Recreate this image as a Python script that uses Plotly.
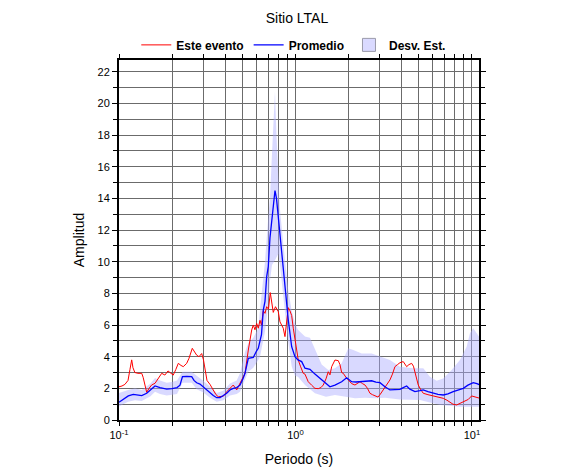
import plotly.graph_objects as go

# ---- data (period in s, amplitude) ----
red_period = [0.100, 0.104, 0.108, 0.1125, 0.1154, 0.118, 0.120, 0.123, 0.128, 0.1345, 0.137, 0.140, 0.1435,
              0.148, 0.153, 0.160, 0.166, 0.1746, 0.182, 0.1895, 0.1945, 0.203, 0.210, 0.2168, 0.2245, 0.2313,
              0.2419, 0.2493, 0.2602, 0.2678, 0.2755, 0.284, 0.2942, 0.3011, 0.3071, 0.3152, 0.3278, 0.3422,
              0.3545, 0.3653, 0.390, 0.409, 0.4255, 0.4442, 0.4644, 0.4849, 0.504, 0.5176, 0.5404, 0.5648,
              0.5767, 0.5896, 0.6029, 0.6155, 0.6294, 0.6418, 0.6571, 0.6718, 0.6868, 0.7031, 0.7198, 0.7332,
              0.7486, 0.7704, 0.7857, 0.7991, 0.8171, 0.833, 0.8528, 0.8718, 0.889, 0.9104, 0.9306, 0.9517,
              0.9717, 0.9935, 1.0158, 1.037, 1.067, 1.107, 1.132, 1.181, 1.235, 1.289, 1.346, 1.395, 1.437,
              1.489, 1.534, 1.568, 1.604, 1.674, 1.748, 1.787, 1.827, 1.865, 1.932, 1.991, 2.081, 2.173, 2.245,
              2.320, 2.397, 2.477, 2.559, 2.643, 2.731, 2.821, 2.934, 3.012, 3.111, 3.214, 3.320, 3.430, 3.544,
              3.662, 3.784, 3.909, 4.081, 4.172, 4.266, 4.395, 4.553, 4.662, 4.753, 4.963, 5.140, 5.298, 5.632,
              6.035, 6.42, 6.88, 7.22, 7.506, 7.806, 8.19, 8.55, 8.93, 9.25, 9.53, 9.96, 10.40, 10.81, 11.10]
red_amp = [2.1, 2.15, 2.25, 2.5, 3.2, 3.8, 3.3, 3.0, 2.95, 2.95, 2.7, 2.32, 1.75,
           2.0, 2.21, 2.32, 2.6, 2.95, 2.84, 3.1, 3.0, 2.84, 3.2, 3.58, 3.45, 3.37,
           3.58, 3.9, 4.53, 4.3, 4.1, 4.0, 4.2, 3.8, 3.1, 2.5, 2.25, 1.9,
           1.6, 1.47, 1.5, 1.8, 2.0, 2.21, 1.9, 2.32, 2.7, 2.95, 4.42, 5.69,
           6.0, 5.7, 6.1, 5.8, 6.3, 6.0, 6.9, 6.74, 7.16, 7.0, 8.05, 7.27,
           6.8, 7.16, 6.95, 6.85, 6.2, 6.0, 5.8, 5.27, 6.0, 7.1, 6.9, 6.6,
           5.8, 5.06, 4.4, 3.79, 3.4, 2.95, 2.9, 2.42, 2.2, 2.0, 1.98, 2.05, 2.21,
           2.6, 3.05, 2.85, 3.37, 3.79, 3.75, 3.5, 3.0, 2.95, 2.7, 2.53, 2.3, 2.21, 2.3,
           2.42, 2.3, 2.21, 2.0, 1.69, 1.6, 1.54, 1.45, 1.6, 1.85, 2.1, 2.3, 2.53, 2.9,
           3.37, 3.5, 3.62, 3.69, 3.5, 3.37, 3.5, 3.58, 3.4, 3.05, 2.21, 1.9, 1.69, 1.6,
           1.52, 1.45, 1.37, 1.25, 1.1, 1.0, 0.95, 1.05, 1.16, 1.2, 1.3, 1.52, 1.45, 1.38, 1.37]

mean_period = [0.100, 0.1054, 0.1129, 0.1205, 0.1281, 0.1345, 0.1435, 0.1508, 0.160, 0.1707, 0.1864, 0.1997,
               0.2132, 0.2216, 0.2289, 0.2419, 0.2582, 0.266, 0.2755, 0.2876, 0.2991, 0.3140, 0.3278, 0.3422,
               0.3577, 0.3734, 0.390, 0.4075, 0.4255, 0.4442, 0.4644, 0.4849, 0.504, 0.5176, 0.5404, 0.5767,
               0.5974, 0.6155, 0.6294, 0.6418, 0.6571, 0.6718, 0.6868, 0.7013, 0.7169, 0.7359, 0.7554, 0.7654,
               0.7806, 0.7991, 0.8171, 0.8351, 0.8551, 0.8718, 0.9104, 0.9517, 0.9935, 1.0332, 1.0842, 1.132,
               1.2083, 1.289, 1.4076, 1.489, 1.568, 1.674, 1.827, 1.950, 2.081, 2.202, 2.372, 2.508, 2.702,
               2.858, 3.012, 3.214, 3.430, 3.662, 3.909, 4.081, 4.266, 4.452, 4.753, 5.074, 5.298, 5.632,
               6.035, 6.42, 6.88, 7.311, 7.834, 8.331, 8.93, 9.491, 10.17, 10.67, 11.10]
mean_amp = [1.12, 1.3, 1.52, 1.62, 1.6, 1.54, 1.69, 1.9, 2.15, 2.05, 1.95, 1.98,
            2.05, 2.2, 2.74, 2.76, 2.74, 2.5, 2.35, 2.27, 2.1, 1.95, 1.75, 1.55,
            1.41, 1.42, 1.55, 1.69, 1.9, 2.0, 2.05, 2.2, 2.6, 2.95, 3.9, 3.95,
            4.3, 4.53, 5.0, 5.4, 6.95, 7.5, 9.06, 9.7, 11.5, 12.8, 14.0, 14.5,
            14.0, 12.85, 11.5, 10.3, 9.2, 8.2, 6.32, 4.63, 4.0, 3.8, 3.69, 3.27,
            3.2, 2.9, 2.53, 2.3, 2.1, 2.21, 2.42, 2.67, 2.42, 2.4, 2.42, 2.46, 2.48,
            2.4, 2.36, 2.1, 1.9, 1.92, 1.94, 2.05, 2.15, 1.95, 1.79, 1.85, 1.9, 1.8,
            1.69, 1.62, 1.58, 1.65, 1.79, 1.9, 2.0, 2.2, 2.36, 2.3, 2.22]

upper_period = [0.100, 0.1125, 0.1232, 0.1345, 0.1508, 0.160, 0.1707, 0.1864, 0.1997, 0.2132, 0.2289, 0.2582,
                0.2755, 0.2991, 0.3278, 0.3577, 0.390, 0.4255, 0.4644, 0.4849, 0.5176, 0.5404, 0.5767, 0.6155,
                0.6294, 0.6571, 0.6718, 0.7013, 0.7169, 0.7359, 0.7554, 0.7654, 0.7806, 0.7991, 0.8171, 0.8551,
                0.8718, 0.9104, 0.9517, 0.9935, 1.0332, 1.132, 1.2083, 1.289, 1.4076, 1.534, 1.674, 1.827, 1.991,
                2.126, 2.372, 2.702, 3.079, 3.430, 3.909, 4.650, 5.298, 5.781, 6.31, 6.88, 7.674, 8.55, 9.33,
                9.743, 10.17, 10.63, 11.10]
upper_amp = [1.7, 1.9, 2.0, 1.9, 2.3, 2.65, 2.5, 2.35, 2.4, 2.5, 3.05, 3.05,
             2.8, 2.5, 2.1, 1.7, 1.85, 2.3, 2.5, 2.95, 4.3, 4.85, 5.2, 5.8,
             6.95, 8.85, 10.0, 12.8, 14.0, 16.8, 19.5, 20.75, 18.0, 15.3, 13.3, 11.0,
             10.1, 8.2, 6.9, 6.1, 5.7, 5.27, 5.2, 4.5, 3.5, 3.16, 3.27, 3.58, 4.53,
             4.42, 4.21, 4.2, 4.0, 3.79, 3.37, 3.27, 3.27, 2.74, 2.48, 2.63, 3.16, 3.79, 4.63,
             5.48, 5.8, 5.5, 5.2]

lower_period = [0.100, 0.1125, 0.1232, 0.1345, 0.1508, 0.160, 0.1707, 0.1864, 0.1997, 0.2132, 0.2289, 0.2582,
                0.2755, 0.2991, 0.3278, 0.3577, 0.390, 0.4255, 0.4644, 0.4849, 0.5176, 0.5404, 0.5767, 0.6155,
                0.6294, 0.6571, 0.6718, 0.7013, 0.7169, 0.7359, 0.7654, 0.7991, 0.8171, 0.8551, 0.8718, 0.9104,
                0.9517, 0.9935, 1.0332, 1.132, 1.289, 1.489, 1.674, 1.908, 2.173, 2.477, 2.821, 3.214, 3.909,
                5.074, 6.59, 8.55, 11.10]
lower_amp = [0.85, 1.15, 1.25, 1.2, 1.5, 1.79, 1.65, 1.55, 1.6, 1.65, 2.35, 2.35,
             1.95, 1.75, 1.4, 1.16, 1.25, 1.55, 1.65, 1.79, 2.5, 3.05, 3.3, 3.79,
             4.0, 5.0, 5.6, 7.3, 8.8, 9.8, 10.1, 10.5, 9.8, 7.7, 6.6, 4.9,
             3.4, 2.8, 2.74, 2.21, 1.69, 1.47, 1.58, 1.47, 1.37, 1.4, 1.37, 1.4, 1.3,
             1.26, 0.95, 0.84, 0.84]

x_major = [0.1, 1, 10]
x_major_text = ["10<sup>-1</sup>", "10<sup>0</sup>", "10<sup>1</sup>"]
x_grid = [0.1, 0.2, 0.3, 0.4, 0.5, 0.6, 0.7, 0.8, 0.9, 1, 2, 3, 4, 5, 6, 7, 8, 9, 10]

FONT = "Liberation Sans, Arial, Helvetica, sans-serif"
GRID = "#6b6b6b"

fig = go.Figure()
fig.add_trace(go.Scatter(
    x=upper_period + lower_period[::-1], y=upper_amp + lower_amp[::-1],
    fill="toself", fillcolor="rgba(170,170,255,0.45)", mode="lines",
    line=dict(width=0), name="Desv. Est.", showlegend=False,
    hoverinfo="skip"))
fig.add_trace(go.Scatter(x=red_period, y=red_amp, mode="lines", name="Este evento",
                         line=dict(color="#ff0000", width=1), legendrank=1))
fig.add_trace(go.Scatter(x=mean_period, y=mean_amp, mode="lines", name="Promedio",
                         line=dict(color="#0000ff", width=1.3), legendrank=2))
# legend-only swatch for the band
fig.add_trace(go.Scatter(x=[None], y=[None], mode="markers", name="Desv. Est.", legendrank=3,
                         marker=dict(symbol="square", size=13, color="#dadaff",
                                     line=dict(color="#9a9aaa", width=1))))

fig.update_layout(
    width=578, height=467,
    margin=dict(l=111, r=107, t=52, b=55, autoexpand=False),
    paper_bgcolor="white", plot_bgcolor="white",
    font=dict(family=FONT, size=11, color="black"),
    title=dict(text="Sitio LTAL", x=0.5, xanchor="center", y=0.9786, yanchor="middle",
               yref="container", font=dict(size=14, family=FONT)),
    legend=dict(orientation="h", x=0.048, xanchor="left", y=1.042, yanchor="middle",
                font=dict(size=12, family=FONT, weight="bold"), bgcolor="rgba(0,0,0,0)",
                traceorder="normal", itemwidth=30),
    showlegend=True,
)
fig.update_xaxes(
    type="log", range=[-1, 1.04], automargin=False,
    tickmode="array", tickvals=x_grid,
    ticktext=[x_major_text[x_major.index(v)] if v in x_major else "" for v in x_grid],
    showgrid=True, gridcolor=GRID, gridwidth=1,
    ticks="outside", ticklen=4, tickcolor="black", tickwidth=1,
    showline=True, linecolor="black", linewidth=2, mirror="ticks",
    zeroline=False,
    title=dict(text="Periodo (s)", font=dict(size=14, family=FONT), standoff=14),
    tickfont=dict(size=11, family=FONT),
)
fig.update_yaxes(
    range=[0, 22.75], tickmode="linear", tick0=0, dtick=2, automargin=False,
    showgrid=True, gridcolor=GRID, gridwidth=1,
    minor=dict(dtick=1, showgrid=True, gridcolor=GRID, gridwidth=1, ticks="outside", ticklen=4,
               tickcolor="black"),
    ticks="outside", ticklen=5, tickcolor="black", tickwidth=1,
    showline=True, linecolor="black", linewidth=2, mirror="ticks",
    zeroline=False,
    title=dict(text="Amplitud", font=dict(size=14, family=FONT), standoff=10),
    tickfont=dict(size=11, family=FONT),
)

fig.write_html("out.html")
